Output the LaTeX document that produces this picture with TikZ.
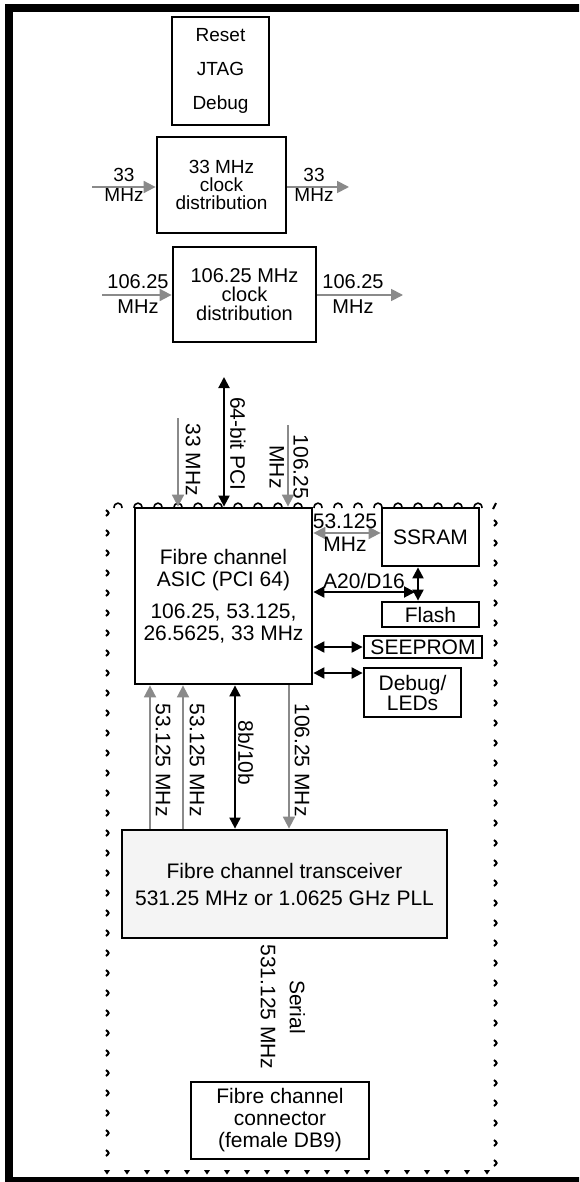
\documentclass[tikz,border=0pt]{standalone}
\usepackage{fontspec}
\setmainfont{Liberation Sans}
\usetikzlibrary{arrows.meta}
\definecolor{arrgray}{HTML}{8A8A8A}
\definecolor{boxfill}{HTML}{F4F4F4}
\begin{document}
\begin{tikzpicture}[x=1pt,y=-1pt,
  box/.style={draw, line width=2.8pt, inner sep=0pt, align=center, font=\fontsize{21}{22}\selectfont},
  lbl/.style={inner sep=0pt, align=center, font=\fontsize{21}{22}\selectfont},
  garr/.style={draw=arrgray, line width=1.8pt, -{Triangle[length=12pt,width=12pt]}, arrgray},
  gdbl/.style={draw=arrgray, line width=1.8pt, {Triangle[length=12pt,width=12pt]}-{Triangle[length=12pt,width=12pt]}, arrgray},
  bdbl/.style={draw=black, line width=2pt, {Triangle[length=11pt,width=11pt]}-{Triangle[length=11pt,width=11pt]}},
  tick/.style={line width=2pt}
]
\useasboundingbox (0,0) rectangle (579,1182);
\clip (0,0) rectangle (579,1182);
\fill[white] (0,0) rectangle (579,1182);
% outer frame
\draw[line width=8pt] (9,8) rectangle (620,1181);

% dotted enclosure
\foreach \x in {118,138,...,478} \draw[tick, line width=1.6pt] (\x-4,508) .. controls (\x-4,501.5) and (\x+4,501.5) .. (\x+4,508);
\foreach \y in {513,533,...,1153} \draw[tick] (106,\y-3) .. controls (109.5,\y) .. (106,\y+3);
\foreach \y in {523,543,...,1163} \draw[tick] (494,\y-3) .. controls (497.5,\y) .. (494,\y+3);
\draw[tick] (493,509) -- (496,503);
\foreach \x in {107,127,...,487} \fill (\x-3,1170) -- (\x+3,1170) -- (\x,1174.5) -- cycle;

% boxes
\node[box, minimum width=97pt, minimum height=108pt, font=\fontsize{19}{34}\selectfont] (reset) at (220.5,71) {Reset\\JTAG\\Debug};
\node[box, minimum width=129pt, minimum height=96pt, font=\fontsize{19}{18}\selectfont] (clkA) at (221.5,185) {33 MHz\\clock\\distribution};
\node[box, minimum width=143pt, minimum height=95pt, font=\fontsize{20}{19}\selectfont] (clkB) at (244.5,294.5) {106.25 MHz\\clock\\distribution};
\node[box, minimum width=177pt, minimum height=176pt, fill=white] (asic) at (223.5,596) {Fibre channel\\ASIC (PCI 64)\\[10pt]106.25, 53.125,\\26.5625, 33 MHz};
\node[box, minimum width=97pt, minimum height=58pt, fill=white] (ssram) at (430.5,537) {SSRAM};
\node[box, minimum width=97pt, minimum height=25pt] (flash) at (430.5,614.5) {Flash};
\node[box, minimum width=118pt, minimum height=22pt] (seeprom) at (423,647) {SEEPROM};
\node[box, minimum width=97pt, minimum height=49pt, font=\fontsize{21}{20}\selectfont] (dbg) at (412.5,692.5) {Debug/\\LEDs};
\node[box, minimum width=325pt, minimum height=108pt, fill=boxfill, font=\fontsize{21}{27}\selectfont] (trans) at (284.5,884) {Fibre channel transceiver\\531.25 MHz or 1.0625 GHz PLL};
\node[box, minimum width=178pt, minimum height=77pt] (conn) at (280,1120.5) {Fibre channel\\connector\\(female DB9)};

% clock inputs/outputs
\coordinate (inA) at (92,187);
\coordinate (outA) at (349,187);
\coordinate (inB) at (102,295);
\coordinate (outB) at (403,295);
\draw[garr] (inA) -- (inA -| clkA.west);
\draw[garr] (outA -| clkA.east) -- (outA);
\draw[garr] (inB) -- (inB -| clkB.west);
\draw[garr] (outB -| clkB.east) -- (outB);
\node[lbl, font=\fontsize{19}{20}\selectfont] (linA) at (124,185) {33\\MHz};
\node[lbl, font=\fontsize{19}{20}\selectfont] (loutA) at (314,185) {33\\MHz};
\node[lbl, font=\fontsize{20}{25}\selectfont] (linB) at (138,294) {106.25\\MHz};
\node[lbl, font=\fontsize{20}{25}\selectfont] (loutB) at (353,294) {106.25\\MHz};

% top arrows into ASIC
\coordinate (t33) at (178,418);
\coordinate (tpci) at (224,377);
\coordinate (t106) at (288,425);
\draw[garr] (t33) -- (t33 |- asic.north);
\draw[bdbl] (tpci) -- (tpci |- asic.north);
\draw[garr] (t106) -- (t106 |- asic.north);
\node[lbl, rotate=-90] (l33) at (193,460) {33 MHz};
\node[lbl, rotate=-90] (lpci) at (238,444) {64-bit PCI};
\node[lbl, rotate=-90, font=\fontsize{21}{24}\selectfont] (l106) at (289,467) {106.25\\MHz};

% right-side connections
\coordinate (r53) at (0,533);
\coordinate (rA20) at (415,592);
\coordinate (rv) at (418,0);
\coordinate (rsee) at (0,647);
\coordinate (rdbg) at (0,673);
\draw[gdbl] (r53 -| asic.east) -- (r53 -| ssram.west);
\node[lbl, font=\fontsize{21}{23}\selectfont] (l53) at (345,533) {53.125\\MHz};
\draw[bdbl] (rA20 -| asic.east) -- (rA20);
\draw[bdbl] (rv |- ssram.south) -- (rv |- flash.north);
\node[lbl, anchor=base] (lA20) at (364,588) {A20/D16};
\draw[bdbl] (rsee -| asic.east) -- (rsee -| seeprom.west);
\draw[bdbl] (rdbg -| asic.east) -- (rdbg -| dbg.west);

% ASIC <-> transceiver
\coordinate (b1) at (150,0);
\coordinate (b2) at (183,0);
\coordinate (b3) at (235,0);
\coordinate (b4) at (289,0);
\draw[garr] (b1 |- trans.north) -- (b1 |- asic.south);
\draw[garr] (b2 |- trans.north) -- (b2 |- asic.south);
\draw[bdbl] (b3 |- asic.south) -- (b3 |- trans.north);
\draw[garr] (b4 |- asic.south) -- (b4 |- trans.north);
\node[lbl, rotate=-90] (lb1) at (163,760) {53.125 MHz};
\node[lbl, rotate=-90] (lb2) at (197,760) {53.125 MHz};
\node[lbl, rotate=-90] (lb3) at (246,753) {8b/10b};
\node[lbl, rotate=-90] (lb4) at (302,760) {106.25 MHz};

% serial label
\node[lbl, rotate=-90, font=\fontsize{21}{29}\selectfont] (lser) at (283,1007) {Serial\\531.125 MHz};
\end{tikzpicture}
\end{document}
